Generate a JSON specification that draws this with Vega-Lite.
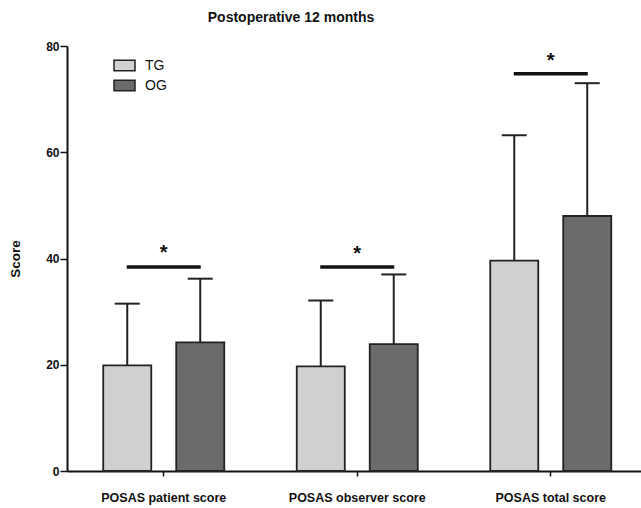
{
  "$schema": "https://vega.github.io/schema/vega-lite/v6.json",
  "autosize": {"type": "none"},
  "width": 574,
  "height": 425,
  "padding": {"left": 67, "top": 46, "right": 0, "bottom": 37},
  "background": "white",
  "title": {"text": "Postoperative 12 months", "font": "Liberation Sans", "fontSize": 14, "fontWeight": "bold", "color": "#111", "anchor": "middle", "frame": "group", "dx": -63, "offset": 15},
  "config": {
    "view": {"stroke": null},
    "font": "Liberation Sans",
    "axis": {"grid": false, "domainColor": "#111", "tickColor": "#111", "labelColor": "#111", "titleColor": "#111", "labelFont": "Liberation Sans", "titleFont": "Liberation Sans"}
  },
  "datasets": {
    "bars": [
      {"measure": "POSAS patient score", "group": "TG", "mean": 19.9, "err": 31.5},
      {"measure": "POSAS patient score", "group": "OG", "mean": 24.2, "err": 36.2},
      {"measure": "POSAS observer score", "group": "TG", "mean": 19.7, "err": 32.1},
      {"measure": "POSAS observer score", "group": "OG", "mean": 23.9, "err": 37.0},
      {"measure": "POSAS total score", "group": "TG", "mean": 39.6, "err": 63.2},
      {"measure": "POSAS total score", "group": "OG", "mean": 48.0, "err": 73.0}
    ],
    "sig": [
      {"measure": "POSAS patient score", "line": 38.4, "star": 39.9, "mark": "*"},
      {"measure": "POSAS observer score", "line": 38.4, "star": 39.8, "mark": "*"},
      {"measure": "POSAS total score", "line": 74.8, "star": 76.0, "mark": "*"}
    ]
  },
  "encoding": {
    "x": {
      "field": "measure", "type": "nominal",
      "sort": ["POSAS patient score", "POSAS observer score", "POSAS total score"],
      "scale": {"range": [0, 580.5], "paddingInner": 0, "paddingOuter": 0},
      "axis": {"title": null, "labelAngle": 0, "labelFontSize": 12.5, "labelFontWeight": "bold", "labelPadding": 15, "tickSize": 5, "tickWidth": 1.5, "domainWidth": 2}
    }
  },
  "layer": [
    {
      "data": {"name": "bars"},
      "mark": {"type": "rule", "stroke": "#222", "strokeWidth": 2},
      "encoding": {
        "xOffset": {"field": "group", "type": "nominal", "sort": ["TG", "OG"], "scale": {"paddingInner": 0.342, "paddingOuter": 0.4966}},
        "y": {"field": "mean", "type": "quantitative"},
        "y2": {"field": "err"}
      }
    },
    {
      "data": {"name": "bars"},
      "mark": {"type": "tick", "color": "#222", "size": 25, "thickness": 2, "opacity": 1},
      "encoding": {
        "xOffset": {"field": "group", "type": "nominal", "sort": ["TG", "OG"]},
        "y": {"field": "err", "type": "quantitative"}
      }
    },
    {
      "data": {"name": "bars"},
      "mark": {"type": "bar", "stroke": "#222", "strokeWidth": 1.8},
      "encoding": {
        "xOffset": {"field": "group", "type": "nominal", "sort": ["TG", "OG"]},
        "y": {
          "field": "mean", "type": "quantitative",
          "scale": {"domain": [0, 80], "nice": false},
          "axis": {"title": "Score", "titleFontSize": 13.5, "titleFontWeight": "bold", "titlePadding": 23, "values": [0, 20, 40, 60, 80], "labelFontSize": 12, "labelFontWeight": "bold", "labelPadding": 1, "tickSize": 7, "tickWidth": 1.5, "domainWidth": 2}
        },
        "fill": {
          "field": "group", "type": "nominal",
          "scale": {"domain": ["TG", "OG"], "range": ["#d0d0d0", "#6b6b6b"]},
          "legend": {"title": null, "orient": "none", "legendX": 46, "legendY": 8, "padding": 0, "rowPadding": 0, "symbolType": "M-1,-0.5H1V0.5H-1Z", "symbolSize": 441, "symbolStrokeColor": "#222", "symbolStrokeWidth": 1.5, "symbolOpacity": 1, "labelFont": "Liberation Sans", "labelFontSize": 14, "labelColor": "#111", "labelOffset": 9}
        }
      }
    },
    {
      "data": {"name": "sig"},
      "mark": {"type": "tick", "color": "#111", "size": 74, "thickness": 3.5, "opacity": 1},
      "encoding": {
        "y": {"field": "line", "type": "quantitative"}
      }
    },
    {
      "data": {"name": "sig"},
      "mark": {"type": "text", "font": "Liberation Sans", "fontSize": 20, "fontWeight": "bold", "color": "#111", "baseline": "alphabetic", "align": "center"},
      "encoding": {
        "y": {"field": "star", "type": "quantitative"},
        "text": {"field": "mark"}
      }
    }
  ]
}
